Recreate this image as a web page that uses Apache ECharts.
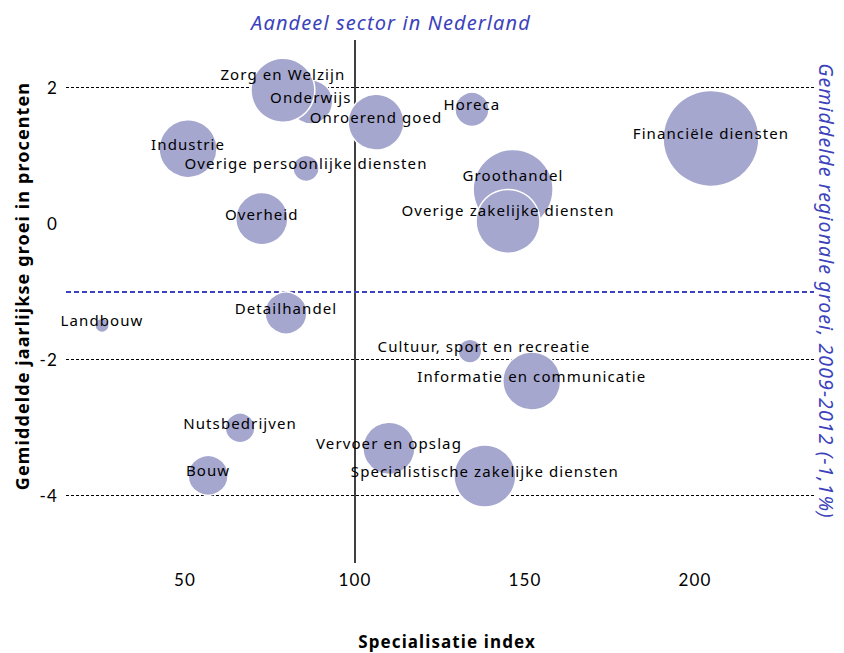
<!DOCTYPE html>
<html>
<head>
<meta charset="utf-8">
<script src="https://cdn.jsdelivr.net/npm/echarts@6/dist/echarts.min.js"></script>
<style>
  html, body { margin: 0; padding: 0; background: #fff; }
  #chart { width: 844px; height: 653px; }
  #chart svg text { letter-spacing: 1.1px; }
</style>
</head>
<body>
<div id="chart"></div>
<script>
// sectoren, gelezen uit de figuur
const sectoren = [
  'Onderwijs', 'Zorg en Welzijn', 'Onroerend goed', 'Industrie',
  'Overige persoonlijke diensten', 'Overheid', 'Horeca', 'Financiële diensten',
  'Groothandel', 'Overige zakelijke diensten', 'Landbouw', 'Detailhandel',
  'Nutsbedrijven', 'Bouw', 'Vervoer en opslag', 'Cultuur, sport en recreatie',
  'Informatie en communicatie', 'Specialistische zakelijke diensten'
]
const specialisatie = [87, 78.8, 106.2, 50.9, 85.6, 72.6, 134.4, 204.7, 146.5, 145, 25.6, 79.7, 66.2, 56.8, 110, 133.8, 152, 138.2]
const groei = [1.79, 1.96, 1.49, 1.10, 0.81, 0.07, 1.68, 1.25, 0.50, 0.03, -1.50, -1.32, -3.01, -3.71, -3.31, -1.88, -2.32, -3.72]
const aandeel = [4.8, 10.2, 7.8, 8.4, 1.7, 6.8, 2.9, 23, 16, 10.2, 0.5, 4.4, 2.2, 4.0, 6.8, 1.4, 8.4, 9.6]
const gridLijnen = [2, -2, -4]
const regionaleGroei = -1.0

const blauw = '#3c42bc'
const font = 'Noto Sans'
const tickFont = 'Lato'

// label verschuivingen (alleen opmaak)
const labelOffset = {
  'Zorg en Welzijn': [0, -16],
  'Groothandel': [0, -14],
  'Overige zakelijke diensten': [0, -11],
  'Cultuur, sport en recreatie': [14, -5]
}

const chart = echarts.init(document.getElementById('chart'), null, { renderer: 'svg' })

const data = sectoren.map((s, i) => ({
  name: s,
  value: [specialisatie[i], groei[i], aandeel[i]],
  label: { offset: labelOffset[s] || [0, -5] }
}))

chart.setOption({
  backgroundColor: '#fff',
  animation: false,
  title: {
    text: 'Aandeel sector in Nederland',
    left: 386,
    top: 7,
    textAlign: 'center',
    textStyle: { color: blauw, fontStyle: 'italic', fontWeight: 'normal', fontSize: 20, fontFamily: font }
  },
  grid: { left: 66, right: 30, top: 40, bottom: 90 },
  xAxis: {
    type: 'value',
    min: 15,
    max: 235,
    interval: 5,
    axisLine: { show: false },
    axisTick: { show: false },
    splitLine: { show: false },
    axisLabel: {
      margin: 8,
      fontSize: 17,
      color: '#000',
      fontFamily: tickFont,
      formatter: v => (v % 50 === 0 ? String(v) : '')
    }
  },
  yAxis: {
    type: 'value',
    min: -5,
    max: 2.7,
    interval: 1,
    axisLine: { show: false },
    axisTick: { show: false },
    splitLine: { show: false },
    axisLabel: {
      margin: 8,
      fontSize: 17,
      color: '#000',
      fontFamily: tickFont,
      formatter: v => (Number.isInteger(v) && v % 2 === 0 ? String(v) : '')
    }
  },
  graphic: [
    {
      type: 'text',
      x: 22, y: 286,
      rotation: Math.PI / 2,
      style: {
        text: 'Gemiddelde jaarlijkse groei in procenten',
        fontSize: 18, fontWeight: 'bold', fontFamily: font,
        fill: '#000', align: 'center', verticalAlign: 'middle'
      }
    },
    {
      type: 'text',
      x: 447, y: 641,
      style: {
        text: 'Specialisatie index',
        fontSize: 17, fontWeight: 'bold', fontFamily: font,
        fill: '#000', align: 'center', verticalAlign: 'middle'
      }
    },
    {
      type: 'text',
      x: 826, y: 291,
      rotation: -Math.PI / 2,
      style: {
        text: 'Gemiddelde regionale groei, 2009-2012 (-1,1%)',
        fontSize: 19.5, fontStyle: 'italic', fontFamily: font,
        fill: blauw, align: 'center', verticalAlign: 'middle'
      }
    }
  ],
  series: [{
    type: 'scatter',
    clip: false,
    data: data,
    symbolSize: v => 20 * Math.sqrt(v[2]),
    itemStyle: { color: '#a6a7cf', borderColor: '#fff', borderWidth: 1.5, opacity: 1 },
    label: {
      show: true,
      position: 'inside',
      formatter: p => p.name,
      color: '#000',
      fontSize: 15,
      fontFamily: font
    },
    emphasis: { disabled: true },
    markLine: {
      silent: true,
      symbol: 'none',
      label: { show: false },
      z: 1,
      data: [
        { xAxis: 100, lineStyle: { color: '#000', type: 'solid', width: 1.5 } },
        [
          { coord: [15, 0], lineStyle: { color: '#000', type: 'solid', width: 1.5 } },
          { coord: [245, 0] }
        ],
        { yAxis: regionaleGroei, lineStyle: { color: blauw, type: [5, 3], width: 2 } }
      ].concat(gridLijnen.map(g => ({ yAxis: g, lineStyle: { color: '#000', type: [3, 2], width: 1 } })))
    }
  }]
})
</script>
</body>
</html>
